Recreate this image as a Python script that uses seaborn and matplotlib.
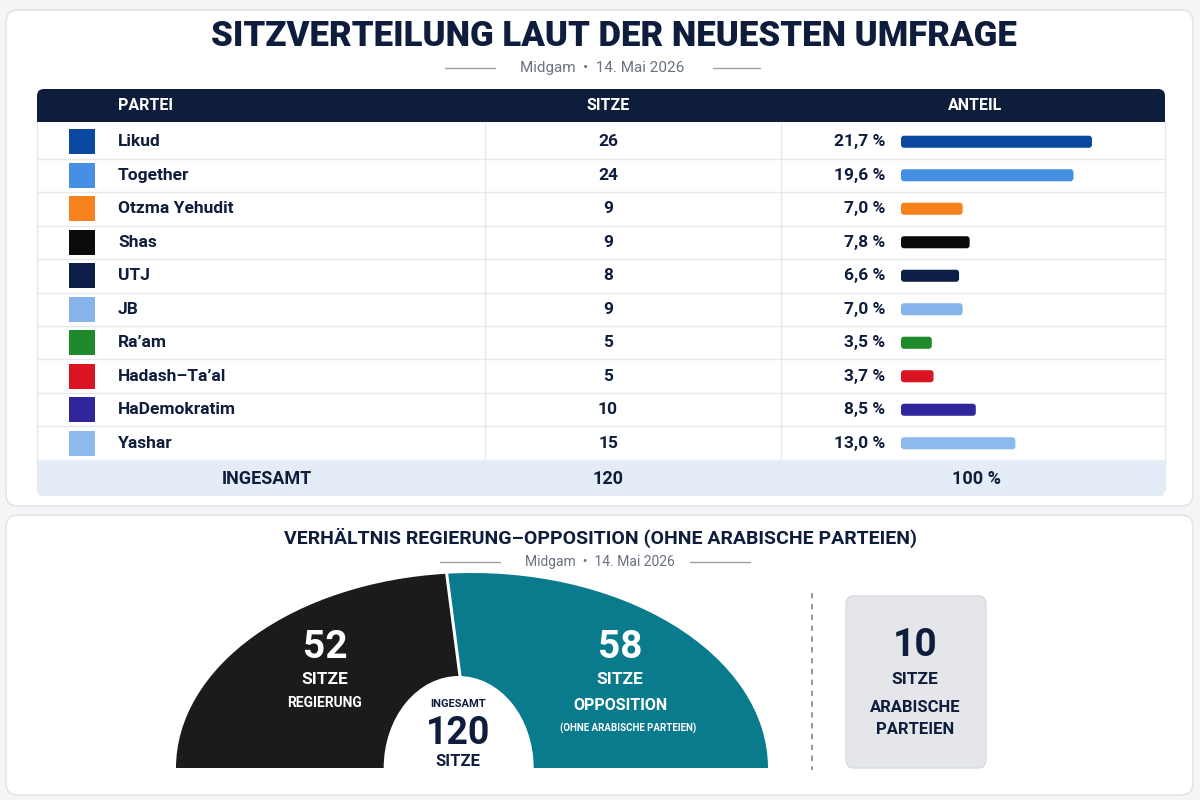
import matplotlib
matplotlib.use("Agg")
import matplotlib.pyplot as plt
import seaborn as sns
import pandas as pd
import numpy as np
from matplotlib.patches import FancyBboxPatch, Ellipse, Rectangle

# ---------------- data ----------------
parties = ["Likud", "Together", "Otzma Yehudit", "Shas", "UTJ", "JB",
           "Ra’am", "Hadash–Ta’al", "HaDemokratim", "Yashar"]
seats = [26, 24, 9, 9, 8, 9, 5, 5, 10, 15]
shares = [21.7, 19.6, 7.0, 7.8, 6.6, 7.0, 3.5, 3.7, 8.5, 13.0]
party_colors = ["#0b48a0", "#4690e4", "#f7811c", "#0b0b0b", "#0e1f47",
                "#86b4ea", "#1e8a2c", "#da1420", "#30259a", "#8dbaec"]
blocs = ["gov", "opp", "gov", "gov", "gov", "opp", "arab", "arab", "opp", "opp"]
total_seats_label = "120"
total_share_label = "100 %"
header_labels = ["PARTEI", "SITZE", "ANTEIL"]
title = "SITZVERTEILUNG LAUT DER NEUESTEN UMFRAGE"
subtitle = "Midgam  •  14. Mai 2026"
title2 = "VERHÄLTNIS REGIERUNG–OPPOSITION (OHNE ARABISCHE PARTEIEN)"
bloc_colors = ["#1b1b1b", "#0a7b8d"]

df = pd.DataFrame({"party": parties, "seats": seats, "share": shares,
                   "bloc": blocs})
gov_seats = int(df.loc[df.bloc == "gov", "seats"].sum())
opp_seats = int(df.loc[df.bloc == "opp", "seats"].sum())
arab_seats = int(df.loc[df.bloc == "arab", "seats"].sum())

# ---------------- style ----------------
sns.set_theme(style="white")
plt.rcParams["font.family"] = ["Roboto", "DejaVu Sans"]
NAVY = "#0f1d3d"
GREY = "#6b7280"
LINE = "#e6e8ec"

W, H = 1200, 800
fig = plt.figure(figsize=(12, 8), dpi=100, facecolor="#f4f5f7")


def fx(x):
    return x / W


def fy(y):
    return 1 - y / H


def axes_px(x0, y0, x1, y1, **kw):
    return fig.add_axes([fx(x0), fy(y1), (x1 - x0) / W, (y1 - y0) / H], **kw)


def T(x, y, s, size, color=NAVY, weight="bold", ha="center", **kw):
    fig.text(fx(x), fy(y), s, fontsize=size, color=color, weight=weight,
             ha=ha, va="center", **kw)


# background canvas in pixel coordinates
bg = axes_px(0, 0, W, H)
bg.set_xlim(0, W)
bg.set_ylim(H, 0)
bg.axis("off")
bg.set_zorder(-5)

for (x0, y0, x1, y1) in [(6, 10, 1193, 506), (6, 515, 1193, 795)]:
    bg.add_patch(FancyBboxPatch((x0, y0), x1 - x0, y1 - y0,
                                boxstyle="round,pad=0,rounding_size=12",
                                fc="white", ec="#e3e5e9", lw=1.2))

# title block
T(614, 37, title, 25, color=NAVY, weight="heavy")
T(602, 68, subtitle, 11, color=GREY, weight="normal")
bg.plot([445, 495], [68, 68], color="#9aa0aa", lw=1)
bg.plot([713, 760], [68, 68], color="#9aa0aa", lw=1)

# table frame
TX0, TX1 = 37, 1165
HY0, HY1 = 89, 122
RY0, RH = 125, 33.5
n = len(parties)
RY1 = RY0 + RH * n
TOT0, TOT1 = RY1, 496
COL1, COL2 = 485, 781

bg.add_patch(FancyBboxPatch((TX0, HY0), TX1 - TX0, HY1 - HY0,
                            boxstyle="round,pad=0,rounding_size=7",
                            fc=NAVY, ec="none"))
bg.add_patch(Rectangle((TX0, HY0 + 10), TX1 - TX0, HY1 - HY0 - 10,
                       fc=NAVY, ec="none"))
bg.add_patch(FancyBboxPatch((TX0, TOT0), TX1 - TX0, TOT1 - TOT0,
                            boxstyle="round,pad=0,rounding_size=6",
                            fc="#e4ecf7", ec="none"))
bg.add_patch(Rectangle((TX0, TOT0), TX1 - TX0, 8, fc="#e4ecf7", ec="none"))
bg.plot([TX0, TX0], [HY1, TOT1 - 6], color=LINE, lw=1)
bg.plot([TX1, TX1], [HY1, TOT1 - 6], color=LINE, lw=1)
for cx in (COL1, COL2):
    bg.plot([cx, cx], [HY1, TOT1], color=LINE, lw=1)

T(118, 105, header_labels[0], 11.5, color="white", ha="left")
T(608, 105, header_labels[1], 11.5, color="white")
T(975, 105, header_labels[2], 11.5, color="white")

# table body axes (rows are categorical positions)
tab = axes_px(TX0, RY0, TX1, RY1)
tab.set_xlim(TX0, TX1)
tab.set_ylim(n - 0.5, -0.5)
tab.axis("off")
for i in range(1, n + 1):
    tab.axhline(i - 0.5, color=LINE, lw=1)
tab.scatter([82] * n, range(n), marker="s", s=330, c=party_colors,
            linewidths=0)
for i, row in df.iterrows():
    tab.text(118, i, row.party, fontsize=12.5, weight="bold", color=NAVY,
             va="center", ha="left")
    tab.text(608, i, str(row.seats), fontsize=12.5, weight="bold",
             color=NAVY, va="center", ha="center")
    tab.text(885, i, f"{row.share:.1f}".replace(".", ",") + " %",
             fontsize=12.5, weight="bold", color=NAVY, va="center",
             ha="right")

# total row
T(267, 479, "INGESAMT", 13)
T(608, 479, total_seats_label, 13)
T(976, 479, total_share_label, 13)

# share bars (seaborn)
BX0, BX1 = 901, 1165
barax = axes_px(BX0, RY0, BX1, RY1)
sns.barplot(data=df, x="share", y="party", hue="party",
            palette=party_colors, legend=False, orient="h", width=0.36,
            saturation=1, ax=barax, linewidth=0)
barax.set_xlim(0, (BX1 - BX0) / 8.8)
barax.set_ylim(n - 0.5, -0.5)
barax.axis("off")
# round the bar corners
xu = barax.get_xlim()[1] / (BX1 - BX0)
yu = n / (RY1 - RY0)
for p in list(barax.patches):
    x, y = p.get_x(), p.get_y()
    w, h = p.get_width(), p.get_height()
    fc = p.get_facecolor()
    p.remove()
    barax.add_patch(FancyBboxPatch((x, y), w, h,
                                   boxstyle=f"round,pad=0,rounding_size={3 * xu}",
                                   mutation_aspect=yu / xu, fc=fc, ec="none"))

# ---------------- bottom section ----------------
T(600, 538, title2, 14)
T(600, 562, subtitle, 10, color=GREY, weight="normal")
bg.plot([440, 500], [562, 562], color="#9aa0aa", lw=1)
bg.plot([690, 750], [562, 562], color="#9aa0aa", lw=1)

CX, RX = 472, 296
BASE, RY = 768, 195
don = axes_px(CX - RX, BASE - RY, CX + RX, BASE)
wedges, _ = don.pie([gov_seats, opp_seats, gov_seats + opp_seats],
                    colors=bloc_colors + ["none"], startangle=180,
                    counterclock=False, radius=1,
                    wedgeprops=dict(edgecolor="none", linewidth=0))
wedges[2].set_visible(False)
don.set_aspect("auto")
don.set_xlim(-1, 1)
don.set_ylim(0, 1)
don.axis("off")
# white separator between the two blocs
ang = np.deg2rad(180 - 180 * gov_seats / (gov_seats + opp_seats))
don.plot([0, np.cos(ang)], [0, np.sin(ang)], color="white", lw=2.2, zorder=4)
don.add_patch(Ellipse((-0.045, 0), 2 * 75 / RX, 2 * 92 / RY, fc="white",
                      ec="none", zorder=5))

T(325, 648, str(gov_seats), 28, color="white")
T(325, 680, "SITZE", 12.5, color="white")
T(325, 703, "REGIERUNG", 10, color="white")
T(620, 648, str(opp_seats), 28, color="white")
T(620, 680, "SITZE", 12.5, color="white")
T(620, 705, "OPPOSITION", 11.5, color="white")
T(628, 728, "(OHNE ARABISCHE PARTEIEN)", 7, color="white")
T(458, 704, "INGESAMT", 8)
T(458, 733, str(gov_seats + opp_seats + arab_seats), 27)
T(458, 762, "SITZE", 12)

bg.plot([812, 812], [593, 770], color="#8a9099", lw=1.3, ls=(0, (3, 3)))
bg.add_patch(FancyBboxPatch((846, 596), 140, 172,
                            boxstyle="round,pad=0,rounding_size=8",
                            fc="#e4e6ea", ec="#d8dbe0", lw=1))
T(915, 646, str(arab_seats), 28)
T(915, 679, "SITZE", 12.5)
T(915, 707, "ARABISCHE", 12)
T(915, 729, "PARTEIEN", 12)

fig.savefig("out.png", dpi=100, facecolor=fig.get_facecolor())
